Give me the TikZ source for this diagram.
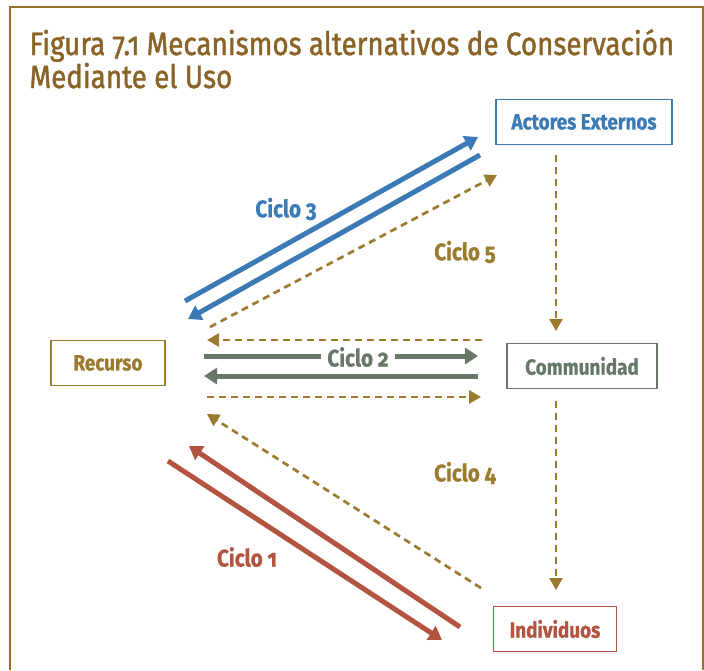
\documentclass[tikz,border=0pt]{standalone}
\usepackage{fontspec}
\setmainfont[FakeStretch=0.86,Numbers=OldStyle,BoldFeatures={FakeBold=0.8}]{Fira Sans}
\newfontfamily\titlefont[FakeStretch=0.86,Numbers=OldStyle,FakeBold=1.4]{Fira Sans}
\usetikzlibrary{positioning, arrows.meta}
\definecolor{framebrown}{HTML}{9A7030}
\definecolor{titlebrown}{HTML}{8A6326}
\definecolor{cblue}{HTML}{3B7AB4}
\definecolor{cgold}{HTML}{9A7B2F}
\definecolor{cgreen}{HTML}{677869}
\definecolor{cred}{HTML}{B25440}

\begin{document}
\begin{tikzpicture}[x=1pt, y=-1pt,
    box/.style={draw, line width=1.5pt, minimum height=45pt, inner sep=0pt, font=\bfseries\fontsize{22}{24}\selectfont},
    lbl/.style={font=\bfseries\fontsize{24}{26}\selectfont},
    thick arrow/.style={line width=5pt, -{Triangle[length=13pt, width=16pt]}},
    dash arrow/.style={cgold, line width=2.7pt, dash pattern=on 7pt off 5pt, -{Triangle[length=12pt, width=13pt]}}]
\useasboundingbox (0,0) rectangle (704,670);
\draw[framebrown, line width=2pt] (10,670) -- (10,7) -- (703,7) -- (703,670);
\node[anchor=base west, text=titlebrown, font=\titlefont\fontsize{32.3}{35}\selectfont] (title1) at (26,55) {Figura 7.1 Mecanismos alternativos de Conservación};
\node[anchor=base west, text=titlebrown, font=\titlefont\fontsize{32.3}{35}\selectfont] (title2) at (26,88) {Mediante el Uso};

\node[box, draw=cblue, text=cblue, minimum width=176pt] (actores) at (584,122) {Actores Externos};
\node[box, draw=cgold, text=cgold, minimum width=114pt] (recurso) at (108,363) {Recurso};
\node[box, draw=cgreen, text=cgreen, minimum width=150pt] (comunidad) at (582,366) {Communidad};
\node[box, draw=cred, text=cred, minimum width=123pt] (individuos) at (555,629) {Individuos};

\coordinate (r3a) at (185,301); \coordinate (a3a) at (478,137);
\coordinate (a3b) at (480,155); \coordinate (r3b) at (188,319);
\coordinate (r5) at (210,327); \coordinate (a5) at (497,175);
\coordinate (c5) at (482,340); \coordinate (r5b) at (207,340);
\coordinate (r2a) at (204,356); \coordinate (c2a) at (478,356);
\coordinate (c2b) at (478,376); \coordinate (r2b) at (204,376);
\coordinate (r4a) at (207,397); \coordinate (c4a) at (481,397);
\coordinate (av) at (556,155); \coordinate (cv) at (556,331);
\coordinate (cv2) at (556,401); \coordinate (iv) at (556,590);
\coordinate (i4) at (481,588); \coordinate (r4) at (207,414);
\coordinate (i1a) at (460,627); \coordinate (r1a) at (189,446);
\coordinate (r1b) at (168,461); \coordinate (i1b) at (442,640);

\draw[thick arrow, cblue] (r3a) -- (a3a);
\draw[thick arrow, cblue] (a3b) -- (r3b);
\draw[dash arrow] (r5) -- (a5);
\draw[dash arrow] (c5) -- (r5b);
\draw[thick arrow, cgreen] (r2a) -- (c2a);
\draw[thick arrow, cgreen] (c2b) -- (r2b);
\draw[dash arrow] (r4a) -- (c4a);
\draw[dash arrow] (av) -- (cv);
\draw[dash arrow] (cv2) -- (iv);
\draw[dash arrow] (i4) -- (r4);
\draw[thick arrow, cred] (i1a) -- (r1a);
\draw[thick arrow, cred] (r1b) -- (i1b);

\node[lbl, text=cblue] (ciclo3) at (286,209) {Ciclo 3};
\node[lbl, text=cgold] (ciclo5) at (465,252) {Ciclo 5};
\node[lbl, text=cgreen, fill=white, inner xsep=6pt, inner ysep=1pt] (ciclo2) at (358,357) {Ciclo 2};
\node[lbl, text=cgold] (ciclo4) at (465,473) {Ciclo 4};
\node[lbl, text=cred] (ciclo1) at (247,557) {Ciclo 1};
\end{tikzpicture}
\end{document}
